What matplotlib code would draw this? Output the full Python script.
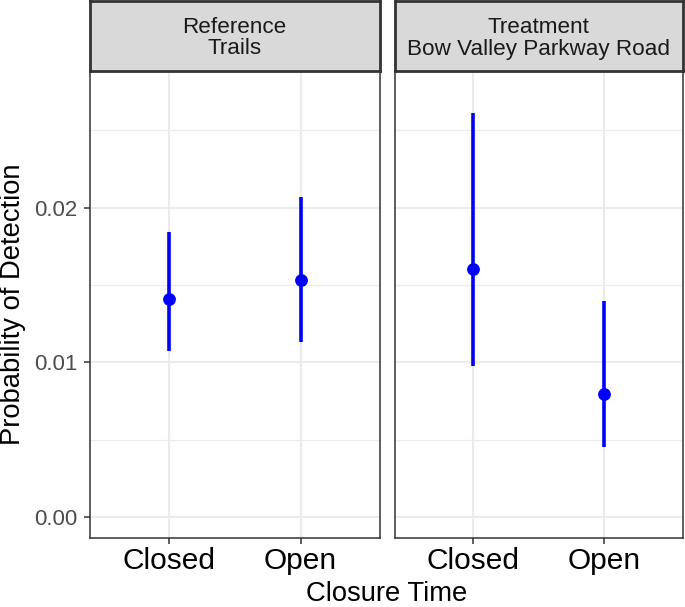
import matplotlib
matplotlib.use("Agg")
import matplotlib.pyplot as plt

plt.rcParams['font.family'] = ['Liberation Sans', 'DejaVu Sans']

# data
panels = ["Reference\nTrails", "Treatment\nBow Valley Parkway Road"]
closure = ["Closed", "Open"]
ref_est = [0.01407, 0.01532]
ref_lo = [0.01073, 0.01129]
ref_hi = [0.01841, 0.02069]
trt_est = [0.01601, 0.00798]
trt_lo = [0.00976, 0.00455]
trt_hi = [0.02611, 0.01393]
y_ticks = [0.00, 0.01, 0.02]
y_minor = [0.005, 0.015, 0.025]

W, H = 685, 607
fig = plt.figure(figsize=(W / 100, H / 100), dpi=100)

edge = "#333333"
grid = "#EBEBEB"
blue = "#0000FF"

boxes = [(90, 379.5), (394.5, 682.7)]
top_px, bot_px = 71, 537.7
series = [(ref_est, ref_lo, ref_hi), (trt_est, trt_lo, trt_hi)]

for i, ((x0, x1), (est, lo, hi)) in enumerate(zip(boxes, series)):
    ax = fig.add_axes([x0 / W, 1 - bot_px / H, (x1 - x0) / W, (bot_px - top_px) / H])
    xs = list(range(len(closure)))
    ax.vlines(xs, lo, hi, color=blue, lw=2.6, zorder=3)
    ax.plot(xs, est, 'o', color=blue, ms=8.2, zorder=4)
    ax.set_xlim(-0.6, 1.6)
    ax.set_ylim(-0.00134, 0.02883)
    ax.set_xticks(xs)
    ax.set_xticklabels(closure, fontsize=21.5, color="black")
    ax.set_yticks(y_ticks)
    ax.set_yticks(y_minor, minor=True)
    ax.yaxis.set_tick_params(which='minor', length=0)
    if i == 0:
        ax.set_yticklabels(["0.00", "0.01", "0.02"], fontsize=16, color="#4D4D4D")
        ax.tick_params(axis='y', length=4, width=1.1, color=edge, pad=5)
    else:
        ax.tick_params(axis='y', which='both', length=0, labelleft=False)
    ax.tick_params(axis='x', length=4, width=1.1, color=edge, pad=3)
    ax.grid(True, which='major', color=grid, lw=1.5, zorder=0)
    ax.grid(True, which='minor', axis='y', color=grid, lw=0.9, zorder=0)
    ax.set_axisbelow(True)
    for s in ax.spines.values():
        s.set_color(edge)
        s.set_linewidth(1.1)

    # facet strip
    sx = fig.add_axes([x0 / W, 1 - top_px / H, (x1 - x0) / W, (top_px - 1) / H])
    sx.set_facecolor("#D9D9D9")
    sx.set_xticks([])
    sx.set_yticks([])
    for s in sx.spines.values():
        s.set_color(edge)
        s.set_linewidth(2.0)
    sx.text(0.5, 0.47, panels[i], ha='center', va='center', fontsize=16.2,
            color="#1A1A1A", linespacing=1.05, transform=sx.transAxes)

fig.text((90 + 682.7) / 2 / W, 1 - 594 / H, "Closure Time", ha='center', va='center',
         fontsize=19.7)
fig.text(13 / W, 1 - 304 / H, "Probability of Detection", ha='center', va='center',
         rotation=90, fontsize=19.7)

fig.savefig("out.png", dpi=100)
